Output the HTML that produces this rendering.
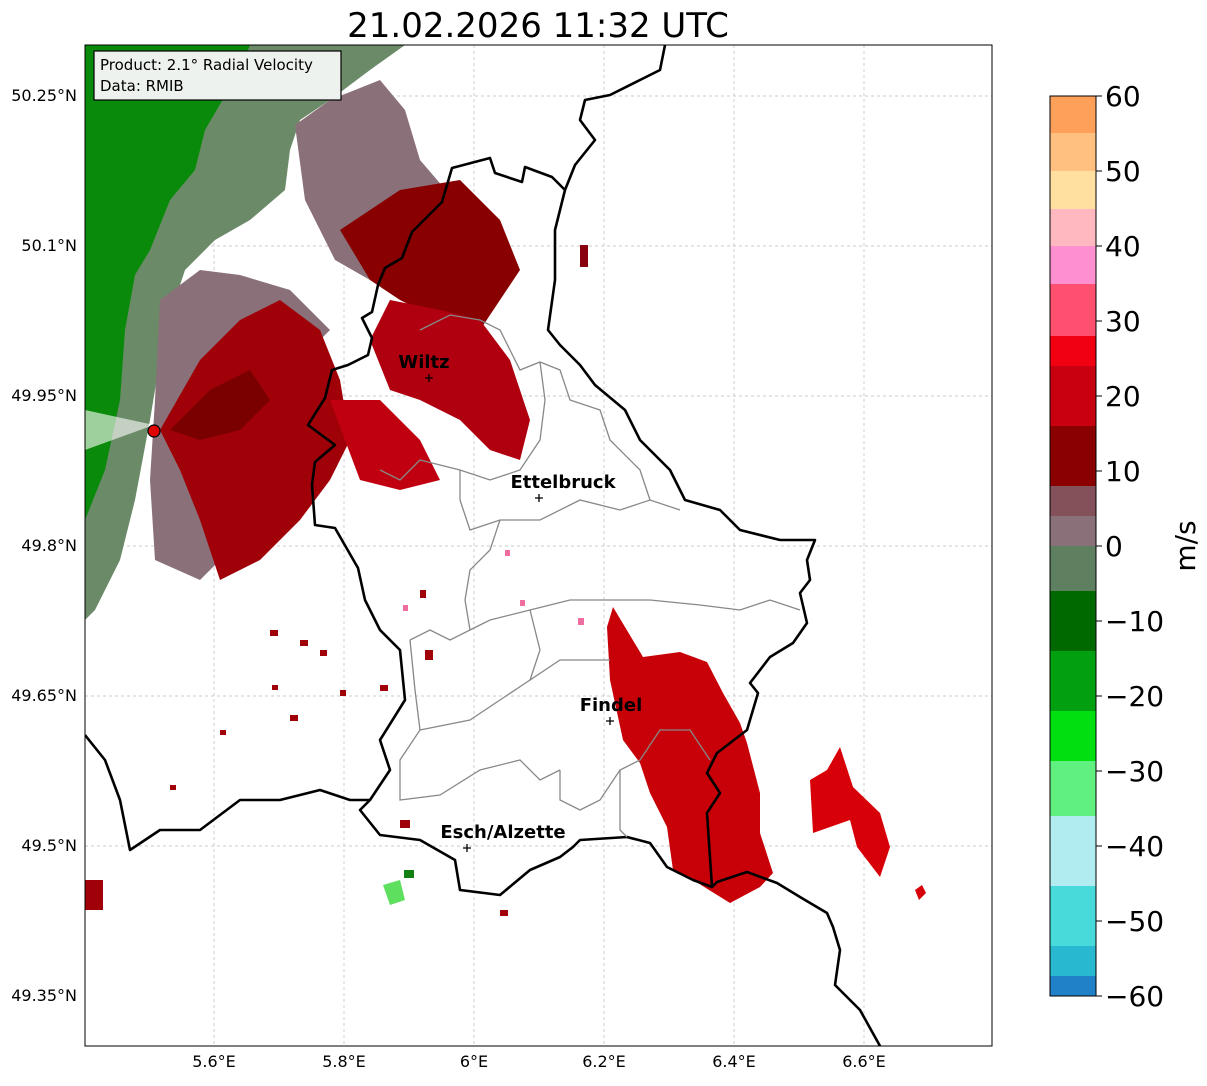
<!DOCTYPE html>
<html><head><meta charset="utf-8"><style>
body{margin:0;background:#fff;font-family:"Liberation Sans","DejaVu Sans",sans-serif;}
</style></head><body>
<svg width="1207" height="1081" xmlns="http://www.w3.org/2000/svg" font-family="DejaVu Sans, Liberation Sans, sans-serif">
<defs>
<clipPath id="c"><rect x="85" y="45" width="907" height="1001"/></clipPath>
</defs>
<text x="538" y="37" font-size="34" text-anchor="middle">21.02.2026 11:32 UTC</text>
<g clip-path="url(#c)">
<g stroke="#bbb" stroke-width="0.7" stroke-dasharray="3,3">
<line x1="214" y1="45" x2="214" y2="1046"/><line x1="344" y1="45" x2="344" y2="1046"/><line x1="474" y1="45" x2="474" y2="1046"/><line x1="604" y1="45" x2="604" y2="1046"/><line x1="734" y1="45" x2="734" y2="1046"/><line x1="864" y1="45" x2="864" y2="1046"/>
<line x1="85" y1="96" x2="992" y2="96"/><line x1="85" y1="246" x2="992" y2="246"/><line x1="85" y1="396" x2="992" y2="396"/><line x1="85" y1="546" x2="992" y2="546"/><line x1="85" y1="696" x2="992" y2="696"/><line x1="85" y1="846" x2="992" y2="846"/>
</g>
<!-- radar echoes -->
<polygon fill="#6a8a68" points="85,45 405,45 370,70 330,100 300,120 290,150 285,190 250,220 215,240 185,270 165,330 150,420 135,500 120,560 95,610 85,620"/>
<polygon fill="#0a8a0a" points="85,45 250,45 240,70 205,130 195,170 170,200 150,250 135,275 125,330 120,400 105,470 85,520"/>
<polygon fill="#8a7078" points="295,125 330,100 380,80 405,110 420,160 450,195 420,230 370,280 335,260 305,200"/>
<polygon fill="#8a7078" points="160,300 200,270 240,275 290,290 330,330 290,370 230,430 200,500 220,560 200,580 155,560 150,480 155,400"/>
<polygon fill="#880000" points="340,230 400,190 460,180 500,220 520,270 500,300 480,330 440,320 400,300 370,280"/>
<polygon fill="#b00010" points="390,300 440,310 480,320 510,360 530,420 520,460 490,450 460,420 420,400 390,390 370,340"/>
<polygon fill="#a00008" points="160,430 200,360 240,320 280,300 320,330 340,380 350,440 330,480 300,520 260,560 220,580 200,520 180,470"/>
<polygon fill="#7a0000" points="170,430 210,390 250,370 270,400 240,430 200,440"/>
<polygon fill="#c00010" points="330,400 380,400 420,440 440,480 400,490 360,480"/>
<polygon fill="#ffffff" opacity="0.6" points="85,410 154,425 85,450"/>
<polygon fill="#c80008" points="613,607 643,657 680,652 707,662 723,693 740,723 747,743 760,793 760,833 773,873 760,887 730,903 693,880 673,870 667,827 650,793 640,763 623,740 610,680 607,627"/>
<polygon fill="#d80008" points="840,747 853,787 880,813 890,847 880,877 857,847 850,820 813,833 810,780 827,770"/>
<polygon fill="#d80008" points="915,890 922,885 926,893 919,900"/>
<g fill="#a00008">
<rect x="270" y="630" width="8" height="6"/><rect x="300" y="640" width="8" height="6"/><rect x="320" y="650" width="7" height="6"/><rect x="380" y="685" width="8" height="6"/><rect x="340" y="690" width="6" height="6"/><rect x="272" y="685" width="6" height="5"/><rect x="290" y="715" width="8" height="6"/><rect x="220" y="730" width="6" height="5"/><rect x="425" y="650" width="8" height="10"/><rect x="420" y="590" width="6" height="8"/><rect x="500" y="910" width="8" height="6"/><rect x="400" y="820" width="10" height="8"/><rect x="85" y="880" width="18" height="30"/><rect x="170" y="785" width="6" height="5"/>
</g>
<g fill="#ee6ea0"><rect x="403" y="605" width="5" height="6"/><rect x="520" y="600" width="5" height="6"/><rect x="578" y="618" width="6" height="7"/><rect x="505" y="550" width="5" height="6"/></g>
<polygon fill="#5ee05e" points="383,885 400,880 405,900 390,905"/>
<rect x="404" y="870" width="10" height="8" fill="#138013"/>
<rect x="580" y="245" width="8" height="22" fill="#8a0010"/>
</g>
<g fill="none" stroke="#000" stroke-width="2.6" stroke-linejoin="round" clip-path="url(#c)">
<polyline points="665,45 660,70 640,80 610,95 585,100 580,120 595,140 575,165 565,190 555,230 555,280 548,330 560,345 580,365 595,385 625,410 640,440 670,470 685,500 720,510 740,530 780,540 815,540 807,560 810,580 800,593 807,623 793,643 770,657 750,683 758,693 747,730 717,753 707,773 720,793 707,813 712,887 717,882 747,872 777,883 800,897 827,913 833,927 840,950 835,985 860,1010 880,1046"/>
<polyline points="565,190 552,177 525,167 522,182 495,173 490,158 452,168 442,202 412,232 402,258 385,268 378,285 372,312 362,318 372,338 368,355 348,365 332,370 325,398 308,425 335,445 315,462 312,485 315,525 335,528 358,568 365,600 380,630 400,650 405,700 380,740 390,770 370,800 360,810 380,835 420,840 455,860 460,890 500,895 530,870 560,857 573,847 580,840 627,837 650,843 667,867 693,880 712,887"/>
<polyline points="85,735 105,760 120,800 130,850 160,830 200,830 240,800 280,800 320,790 350,800 370,800"/>
</g>
<g fill="none" stroke="#888" stroke-width="1.3">
<polyline points="420,330 450,315 480,320 500,330 510,350 520,370 540,362 560,370 570,400 600,410 610,440 640,470 650,500"/>
<polyline points="540,362 545,400 540,440 520,470 490,480 460,470 420,460 400,480 380,470"/>
<polyline points="460,470 460,500 470,530 500,520 540,520 580,500 620,510 650,500 680,510"/>
<polyline points="500,520 490,550 470,570 465,600 470,630 450,640 430,630 410,640"/>
<polyline points="470,630 490,620 530,610 570,600 610,600 650,600 700,605 740,610 770,600 800,610"/>
<polyline points="530,610 540,650 530,680 560,660 610,660"/>
<polyline points="410,640 415,690 420,730 400,760 400,800 440,795 480,770 520,760 540,780 560,770"/>
<polyline points="420,730 470,720 500,700 530,680"/>
<polyline points="620,770 620,830 627,837"/>
<polyline points="560,770 560,800 580,810 600,800 620,770 640,760 660,730 690,730 710,760"/>
</g>
<rect x="85" y="45" width="907" height="1001" fill="none" stroke="#000" stroke-width="1"/>
<rect x="94" y="51" width="247" height="49" fill="#eef2ee" stroke="#000" stroke-width="1.2"/>
<text x="100" y="70" font-size="15">Product: 2.1° Radial Velocity</text>
<text x="100" y="91" font-size="15">Data: RMIB</text>
<circle cx="154" cy="431" r="6" fill="#e00000" stroke="#000" stroke-width="1.2"/>
<g font-size="18" font-weight="bold" text-anchor="middle">
<text x="424" y="368">Wiltz</text><text x="563" y="488">Ettelbruck</text><text x="611" y="711">Findel</text><text x="503" y="838">Esch/Alzette</text>
</g>
<g stroke="#000" stroke-width="1.3">
<path d="M425,378h8M429,374v8M535,498h8M539,494v8M606,721h8M610,717v8M463,848h8M467,844v8"/>
</g>
<g font-size="16" text-anchor="end">
<text x="77" y="101">50.25°N</text><text x="77" y="251">50.1°N</text><text x="77" y="401">49.95°N</text><text x="77" y="551">49.8°N</text><text x="77" y="701">49.65°N</text><text x="77" y="851">49.5°N</text><text x="77" y="1001">49.35°N</text>
</g>
<g font-size="16" text-anchor="middle">
<text x="214" y="1067">5.6°E</text><text x="344" y="1067">5.8°E</text><text x="474" y="1067">6°E</text><text x="604" y="1067">6.2°E</text><text x="734" y="1067">6.4°E</text><text x="864" y="1067">6.6°E</text>
</g>
<g>
<rect x="1050" y="96" width="46" height="37" fill="#ffa05a"/>
<rect x="1050" y="133" width="46" height="38" fill="#ffc080"/>
<rect x="1050" y="171" width="46" height="38" fill="#ffe0a0"/>
<rect x="1050" y="209" width="46" height="37" fill="#ffb8c0"/>
<rect x="1050" y="246" width="46" height="38" fill="#ff90d0"/>
<rect x="1050" y="284" width="46" height="52" fill="#ff5070"/>
<rect x="1050" y="336" width="46" height="30" fill="#f00010"/>
<rect x="1050" y="366" width="46" height="60" fill="#c80010"/>
<rect x="1050" y="426" width="46" height="60" fill="#8a0000"/>
<rect x="1050" y="486" width="46" height="30" fill="#84505a"/>
<rect x="1050" y="516" width="46" height="30" fill="#8a7078"/>
<rect x="1050" y="546" width="46" height="45" fill="#5f8060"/>
<rect x="1050" y="591" width="46" height="60" fill="#006a00"/>
<rect x="1050" y="651" width="46" height="60" fill="#00a010"/>
<rect x="1050" y="711" width="46" height="50" fill="#00e010"/>
<rect x="1050" y="761" width="46" height="55" fill="#60f080"/>
<rect x="1050" y="816" width="46" height="70" fill="#b0ecf0"/>
<rect x="1050" y="886" width="46" height="60" fill="#48dada"/>
<rect x="1050" y="946" width="46" height="30" fill="#28b8d0"/>
<rect x="1050" y="976" width="46" height="20" fill="#2080c8"/>
<rect x="1050" y="96" width="46" height="900" fill="none" stroke="#000" stroke-width="1"/>
</g>
<g stroke="#000" stroke-width="1"><path d="M1096,96h6M1096,171h6M1096,246h6M1096,321h6M1096,396h6M1096,471h6M1096,546h6M1096,621h6M1096,696h6M1096,771h6M1096,846h6M1096,921h6M1096,996h6"/></g>
<g font-size="28">
<text x="1105" y="106">60</text><text x="1105" y="181">50</text><text x="1105" y="256">40</text><text x="1105" y="331">30</text><text x="1105" y="406">20</text><text x="1105" y="481">10</text><text x="1105" y="556">0</text><text x="1105" y="631">−10</text><text x="1105" y="706">−20</text><text x="1105" y="781">−30</text><text x="1105" y="856">−40</text><text x="1105" y="931">−50</text><text x="1105" y="1006">−60</text>
</g>
<text x="1195" y="546" font-size="28" text-anchor="middle" transform="rotate(-90 1195 546)">m/s</text>
</svg>
</body></html>
